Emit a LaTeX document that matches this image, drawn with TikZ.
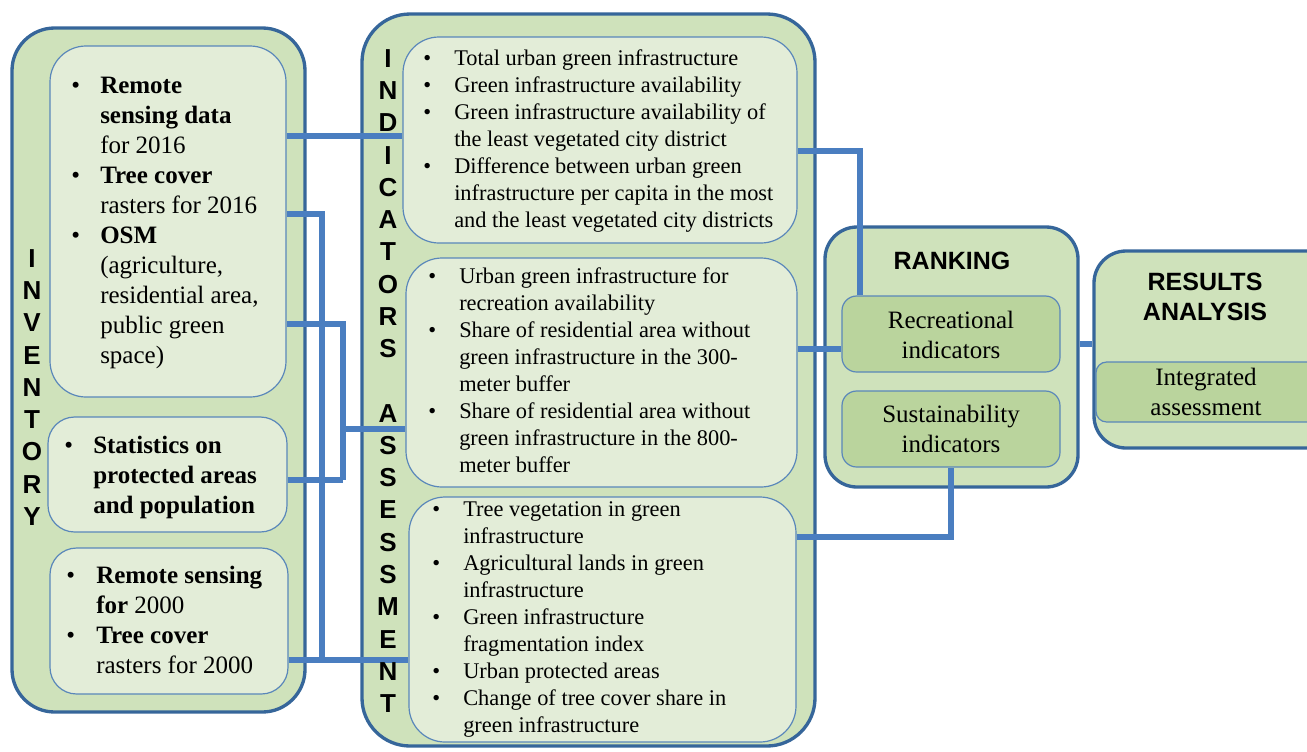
\documentclass[tikz,border=0pt]{standalone}
\usepackage{fontspec}
\setmainfont{Liberation Serif}
\newfontfamily\hdr{Liberation Sans}
\usetikzlibrary{fit}
\definecolor{outfill}{HTML}{CFE2BB}
\definecolor{infill}{HTML}{E3EDD8}
\definecolor{subfill}{HTML}{BAD49D}
\definecolor{outline}{HTML}{36669A}
\definecolor{inline}{HTML}{5A87BA}
\definecolor{conn}{HTML}{4A7EC0}
\newcommand\invfont{\fontsize{18.75}{22.5}\selectfont}
\newcommand\indfont{\fontsize{16.8}{20.25}\selectfont}
\newcommand\vfont{\hdr\bfseries\fontsize{19.5}{24.2}\selectfont}
\newcommand\hfont{\hdr\bfseries\fontsize{18.75}{22.5}\selectfont}
\begin{document}
\begin{tikzpicture}[x=0.75pt,y=-0.75pt,
 outbox/.style={draw=outline, line width=2.5pt, fill=outfill, inner sep=0pt, rounded corners=#1},
 outbox/.default=30pt,
 inbox/.style={draw=inline, line width=0.9pt, fill=infill, inner sep=0pt, rounded corners=#1},
 inbox/.default=25pt,
 subbox/.style={draw=inline, line width=0.9pt, fill=subfill, inner sep=0pt, rounded corners=#1},
 subbox/.default=11pt,
 link/.style={draw=conn, line width=4.3pt},
 ltxt/.style={inner sep=0pt, anchor=north west},
 ctxt/.style={inner sep=0pt, anchor=north},
]
\useasboundingbox (0,0) rectangle (1307,751);
\clip (0,0) rectangle (1307,751);

% outer boxes
\node[outbox=32pt, fit={(12,28) (305,712)}] (inv) {};
\node[outbox=36pt, fit={(362,14) (815,746)}] (ind) {};
\node[outbox=24pt, fit={(825,227) (1078,487)}] (rank) {};
\node[outbox=24pt, fit={(1094,251) (1360,448)}] (res) {};

% inner boxes
\node[inbox=27pt, fit={(50,46) (286,397)}] (inv1) {};
\node[inbox=20pt, fit={(48,417) (287,532)}] (inv2) {};
\node[inbox=20pt, fit={(50,548) (288,694)}] (inv3) {};
\node[inbox=27pt, fit={(403,37) (797,243)}] (ind1) {};
\node[inbox=27pt, fit={(406,258) (797,487)}] (ind2) {};
\node[inbox=27pt, fit={(409,497) (796,742)}] (ind3) {};
\node[subbox=11pt, fit={(842,296) (1060,372)}] (rec) {};
\node[subbox=11pt, fit={(842,391) (1060,467)}] (sus) {};
\node[subbox=8pt, fit={(1096,362) (1360,422)}] (integ) {};

% connectors
\draw[link] (inv1.east |- 0,136) -- (ind1.west |- 0,136);
\draw[link] (inv1.east |- 0,214) -- (322,214) -- (322,660);
\draw[link] (inv3.east |- 0,660) -- (ind3.west |- 0,660);
\draw[link] (inv1.east |- 0,324) -- (343,324) -- (343,480);
\draw[link] (inv2.east |- 0,480) -- (343,480);
\draw[link] (343,429) -- (ind2.west |- 0,429);
\draw[link] (ind1.east |- 0,151) -- (860,151) -- (rec.north -| 860,0);
\draw[link] (ind2.east |- 0,349) -- (rec.west |- 0,349);
\draw[link] (ind3.east |- 0,537) -- (951,537) -- (sus.south -| 951,0);
\draw[link] (rank.east |- 0,344) -- (res.west |- 0,344);

% vertical titles
\node[ctxt, font=\vfont] (invt) at (32,244.4) {\begin{tabular}{@{}c@{}}I\\N\\V\\E\\N\\T\\O\\R\\Y\end{tabular}};
\node[ctxt, font=\vfont] (indt) at (388,44.4) {\begin{tabular}{@{}c@{}}I\\N\\D\\I\\C\\A\\T\\O\\R\\S\\ \\A\\S\\S\\E\\S\\S\\M\\E\\N\\T\end{tabular}};

% inventory texts
\node[ltxt, font=\invfont] (inv1t) at (71,72) {\begin{tabular}{@{}p{21.75pt}@{}l@{}}
\textbullet & \textbf{Remote}\\
 & \textbf{sensing data}\\
 & for 2016\\
\textbullet & \textbf{Tree cover}\\
 & rasters for 2016\\
\textbullet & \textbf{OSM}\\
 & (agriculture,\\
 & residential area,\\
 & public green\\
 & space)
\end{tabular}};
\node[ltxt, font=\invfont] (inv2t) at (64,432) {\begin{tabular}{@{}p{21.75pt}@{}l@{}}
\textbullet & \textbf{Statistics on}\\
 & \textbf{protected areas}\\
 & \textbf{and population}
\end{tabular}};
\node[ltxt, font=\invfont] (inv3t) at (66,562) {\begin{tabular}{@{}p{22.5pt}@{}l@{}}
\textbullet & \textbf{Remote sensing}\\
 & \textbf{for} 2000\\
\textbullet & \textbf{Tree cover}\\
 & rasters for 2000
\end{tabular}};

% indicator texts
\node[ltxt, font=\indfont] (ind1t) at (423,46.1) {\begin{tabular}{@{}p{23.25pt}@{}l@{}}
\textbullet & Total urban green infrastructure\\
\textbullet & Green infrastructure availability\\
\textbullet & Green infrastructure availability of\\
 & the least vegetated city district\\
\textbullet & Difference between urban green\\
 & infrastructure per capita in the most\\
 & and the least vegetated city districts
\end{tabular}};
\node[ltxt, font=\indfont] (ind2t) at (428,264.1) {\begin{tabular}{@{}p{23.25pt}@{}l@{}}
\textbullet & Urban green infrastructure for\\
 & recreation availability\\
\textbullet & Share of residential area without\\
 & green infrastructure in the 300-\\
 & meter buffer\\
\textbullet & Share of residential area without\\
 & green infrastructure in the 800-\\
 & meter buffer
\end{tabular}};
\node[ltxt, font=\indfont] (ind3t) at (432,497.1) {\begin{tabular}{@{}p{23.25pt}@{}l@{}}
\textbullet & Tree vegetation in green\\
 & infrastructure\\
\textbullet & Agricultural lands in green\\
 & infrastructure\\
\textbullet & Green infrastructure\\
 & fragmentation index\\
\textbullet & Urban protected areas\\
\textbullet & Change of tree cover share in\\
 & green infrastructure
\end{tabular}};

% ranking and results
\node[inner sep=0pt, anchor=base, font=\hfont] (rankt) at (952,269) {RANKING};
\node[ctxt, font=\hfont] (rest) at (1205,269) {\begin{tabular}{@{}c@{}}RESULTS\\ANALYSIS\end{tabular}};
\node[ctxt, font=\invfont] (rect) at (951,307) {\begin{tabular}{@{}c@{}}Recreational\\indicators\end{tabular}};
\node[ctxt, font=\invfont] (sust) at (951,401) {\begin{tabular}{@{}c@{}}Sustainability\\indicators\end{tabular}};
\node[ctxt, font=\invfont] (integt) at (1206,364) {\begin{tabular}{@{}c@{}}Integrated\\assessment\end{tabular}};
\end{tikzpicture}
\end{document}
